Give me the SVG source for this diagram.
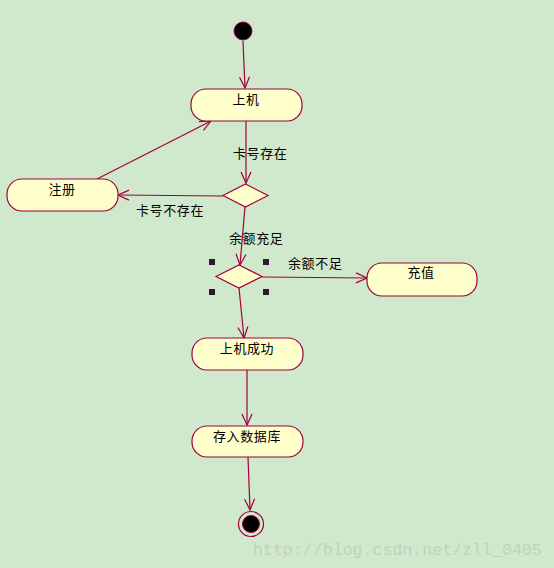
<svg xmlns="http://www.w3.org/2000/svg" width="554" height="568" viewBox="0 0 554 568">
<style>
.bg{fill:#d0e8cc}
.node{fill:#ffffcc;stroke:#a0003c;stroke-width:1.2}
.dia{fill:#ffffcc;stroke:#a0003c;stroke-width:1.2}
.edge{fill:none;stroke:#a0003c;stroke-width:1.2}
.t{font-family:"Noto Sans CJK SC","Noto Sans",sans-serif;font-size:13px;letter-spacing:0.6px;fill:#000}
.c{text-anchor:middle}
.sel{fill:#301830}
.wm{font-family:"Liberation Mono",monospace;font-size:16.6px;fill:#bfd3bd}
</style>
<defs>
<marker id="arr" markerWidth="14" markerHeight="14" refX="12" refY="6" orient="auto" markerUnits="userSpaceOnUse">
<path d="M1,1 L12,6 L1,11" fill="none" stroke="#a0003c" stroke-width="1.2"/>
</marker>
</defs>
<rect class="bg" x="0" y="0" width="554" height="568"/>
<g id="connectors">
<line class="edge" x1="243" y1="41" x2="245" y2="88" marker-end="url(#arr)"/>
<line class="edge" x1="246" y1="121" x2="246" y2="183" marker-end="url(#arr)"/>
<line class="edge" x1="97" y1="179" x2="211" y2="121" marker-end="url(#arr)"/>
<line class="edge" x1="223" y1="196" x2="118" y2="195" marker-end="url(#arr)"/>
<line class="edge" x1="245" y1="207" x2="240" y2="265" marker-end="url(#arr)"/>
<line class="edge" x1="262" y1="277" x2="367" y2="278" marker-end="url(#arr)"/>
<line class="edge" x1="239" y1="288" x2="244" y2="338" marker-end="url(#arr)"/>
<line class="edge" x1="247" y1="370" x2="247" y2="425" marker-end="url(#arr)"/>
<line class="edge" x1="248" y1="457" x2="250" y2="510" marker-end="url(#arr)"/>
<text class="t" x="233" y="158">卡号存在</text>
<text class="t" x="136" y="215">卡号不存在</text>
<text class="t" x="229" y="243">余额充足</text>
<text class="t" x="288" y="268">余额不足</text>
</g>
<g id="start">
<circle cx="243" cy="31" r="9" fill="#000" stroke="#a0003c" stroke-width="1"/>
</g>
<g id="n-shangji">
<rect class="node" x="191" y="89" width="111" height="32" rx="15" ry="15"/>
<text class="t c" x="246" y="104">上机</text>
</g>
<g id="n-zhuce">
<rect class="node" x="7" y="179" width="111" height="32" rx="15" ry="15"/>
<text class="t c" x="62" y="194">注册</text>
</g>
<g id="d1">
<polygon class="dia" points="245.5,184 268,195.5 245.5,207 223,195.5"/>
</g>
<g id="d2">
<polygon class="dia" points="239,265 262,276.5 239,288 216,276.5"/>
<rect class="sel" x="209" y="259" width="6" height="6"/>
<rect class="sel" x="263" y="259" width="6" height="6"/>
<rect class="sel" x="209" y="289" width="6" height="6"/>
<rect class="sel" x="263" y="289" width="6" height="6"/>
</g>
<g id="n-chongzhi">
<rect class="node" x="367" y="263" width="110" height="33" rx="15" ry="15"/>
<text class="t c" x="421" y="277">充值</text>
</g>
<g id="n-success">
<rect class="node" x="192" y="338" width="111" height="32" rx="15" ry="15"/>
<text class="t c" x="247" y="353">上机成功</text>
</g>
<g id="n-db">
<rect class="node" x="192" y="426" width="111" height="31" rx="15" ry="15"/>
<text class="t c" x="247" y="441">存入数据库</text>
</g>
<g id="end">
<circle cx="251" cy="524" r="12.5" fill="none" stroke="#a0003c" stroke-width="1.2"/>
<circle cx="251" cy="524" r="8.5" fill="#000" stroke="#a0003c" stroke-width="1"/>
</g>
<text class="wm" x="253" y="555">http://blog.csdn.net/zll_0405</text>
</svg>
